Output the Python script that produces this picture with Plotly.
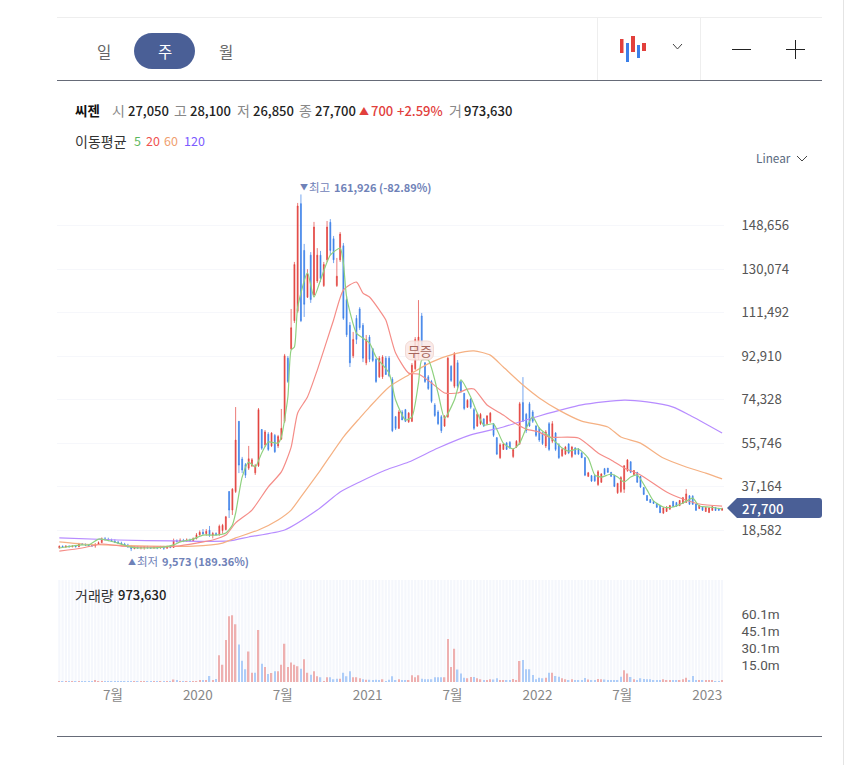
import pandas as pd
import plotly.graph_objects as go

W, H = 845, 765

# weekly candles, thousands of won
open_k = [
    11.0, 11.6, 11.3, 11.7, 11.4, 11.7, 11.4, 12.7, 12.4, 12.1,
    11.9, 11.8, 12.4, 13.2, 14.8, 14.6, 14.2, 13.8, 13.4, 13.0,
    12.6, 12.2, 11.3, 10.6, 11.2, 10.9, 11.1, 11.3, 11.0, 10.9,
    11.2, 10.9, 11.3, 10.8, 11.4, 11.1, 14.0, 13.7, 14.2, 13.8,
    14.3, 14.0, 14.9, 16.5, 17.6, 17.0, 18.5, 16.3, 17.1, 16.6,
    18.4, 18.8, 35.0, 27.1, 35.0, 65.0, 48.9, 46.5, 45.0, 46.0,
    43.0, 46.0, 61.5, 55.0, 59.5, 54.5, 59.0, 54.5, 57.5, 65.0,
    92.0, 96.0, 108.0, 112.0, 158.0, 138.0, 118.0, 136.0, 119.0, 125.0,
    136.0, 123.0, 134.0, 150.0, 143.0, 123.0, 134.0, 140.0, 117.0, 106.0,
    93.0, 109.0, 113.0, 106.0, 90.0, 101.0, 96.0, 91.5, 84.0, 84.0,
    92.0, 92.0, 83.0, 67.0, 62.0, 69.0, 70.0, 64.8, 65.0, 87.5,
    92.0, 110.0, 90.0, 84.0, 82.0, 72.0, 69.0, 67.0, 63.0, 67.0,
    88.5, 80.0, 90.0, 82.0, 77.0, 71.0, 74.5, 70.0, 63.0, 64.0,
    66.0, 64.0, 65.0, 64.0, 58.0, 49.5, 53.0, 55.8, 56.0, 50.0,
    54.0, 55.5, 73.0, 68.0, 72.5, 69.0, 63.0, 62.0, 60.0, 54.5,
    64.0, 56.5, 60.0, 55.0, 50.3, 51.0, 55.3, 50.0, 53.6, 53.0,
    51.5, 49.5, 41.5, 41.8, 41.8, 38.0, 39.0, 44.8, 45.0, 43.2,
    42.0, 34.5, 35.0, 36.0, 44.0, 47.7, 42.3, 43.2, 41.5, 36.7,
    33.3, 31.6, 30.8, 30.0, 29.0, 25.8, 26.5, 27.5, 30.8, 30.3,
    29.0, 30.0, 30.4, 33.2, 33.0, 29.7, 27.8, 28.6, 26.5, 26.1,
    27.0, 28.2, 27.8, 27.05,
]
high_k = [
    12.0, 12.0, 12.0, 12.0, 12.0, 12.1, 13.1, 13.0, 12.9, 12.6,
    12.4, 13.0, 13.7, 15.4, 15.6, 15.3, 14.9, 14.6, 14.0, 13.6,
    13.1, 12.7, 12.2, 11.8, 11.7, 11.6, 11.7, 11.8, 11.5, 11.7,
    11.7, 11.8, 11.8, 11.9, 11.9, 14.9, 14.6, 15.0, 14.8, 15.0,
    14.9, 15.4, 17.3, 18.4, 19.0, 19.0, 20.3, 17.8, 17.6, 20.9,
    21.2, 24.6, 35.2, 36.5, 71.1, 65.1, 49.8, 47.2, 54.5, 49.3,
    46.8, 70.7, 61.7, 61.3, 60.4, 60.4, 59.6, 59.2, 70.3, 93.8,
    92.9, 113.0, 133.1, 158.3, 161.926, 140.8, 130.0, 137.3, 150.2, 139.0,
    137.8, 133.1, 150.6, 151.4, 144.2, 134.8, 145.9, 141.2, 118.5, 107.4,
    103.2, 110.4, 113.8, 107.0, 101.9, 101.9, 96.3, 92.0, 92.9, 93.3,
    92.9, 92.9, 83.9, 67.3, 69.8, 69.8, 70.3, 69.0, 89.9, 101.0,
    116.8, 111.3, 90.3, 84.8, 82.7, 72.8, 69.8, 67.7, 67.7, 92.5,
    89.0, 94.6, 91.2, 82.7, 77.1, 74.5, 75.0, 70.7, 68.6, 68.6,
    66.4, 67.7, 69.0, 64.3, 58.3, 55.7, 55.7, 56.2, 56.6, 53.6,
    57.0, 73.3, 83.9, 68.6, 73.3, 69.8, 63.4, 62.6, 60.4, 61.3,
    64.7, 65.1, 60.4, 55.7, 53.6, 54.5, 55.7, 54.5, 54.0, 53.6,
    51.9, 49.8, 43.4, 42.1, 42.1, 44.2, 42.9, 45.1, 45.1, 43.4,
    42.1, 38.7, 41.6, 46.3, 48.9, 48.0, 44.2, 43.4, 41.6, 36.9,
    33.5, 31.8, 31.0, 30.1, 29.3, 28.4, 28.8, 29.3, 31.0, 30.6,
    31.4, 32.7, 36.1, 33.5, 33.5, 29.7, 29.3, 28.8, 28.4, 28.4,
    28.8, 28.4, 28.0, 28.1,
]
low_k = [
    10.6, 11.0, 11.0, 11.1, 11.2, 11.2, 11.3, 12.1, 11.8, 11.6,
    11.4, 11.0, 12.2, 13.0, 14.0, 13.8, 13.5, 13.0, 12.6, 12.2,
    11.8, 11.0, 9.573, 10.4, 10.5, 10.3, 10.2, 10.6, 10.5, 10.5,
    10.4, 10.6, 10.1, 10.6, 10.8, 10.9, 13.2, 13.4, 13.4, 13.5,
    13.5, 13.7, 14.6, 16.2, 16.4, 16.1, 15.6, 15.0, 16.2, 16.1,
    17.0, 18.4, 23.7, 25.0, 34.4, 42.9, 42.9, 40.8, 44.2, 45.5,
    42.1, 45.5, 52.8, 54.0, 52.3, 54.0, 51.5, 53.6, 57.0, 64.3,
    81.4, 95.5, 107.0, 111.3, 107.4, 109.6, 117.7, 115.6, 118.1, 124.1,
    124.5, 122.4, 133.1, 136.0, 132.6, 122.4, 133.1, 108.3, 101.0, 88.2,
    92.0, 98.0, 104.0, 90.3, 89.0, 90.3, 90.3, 81.4, 83.5, 83.1,
    84.8, 83.9, 60.4, 61.3, 61.7, 65.6, 64.7, 64.3, 64.7, 86.9,
    91.2, 96.7, 81.4, 78.4, 72.8, 66.9, 63.4, 60.0, 62.6, 66.4,
    81.8, 79.2, 79.2, 77.1, 69.8, 70.7, 70.3, 61.3, 62.6, 63.4,
    62.6, 63.4, 64.3, 58.3, 50.6, 48.9, 52.8, 52.8, 53.2, 49.3,
    53.6, 54.9, 64.7, 60.0, 62.6, 64.3, 58.3, 56.2, 54.9, 53.6,
    52.3, 55.7, 52.3, 48.9, 49.8, 50.6, 51.0, 49.3, 50.6, 50.6,
    49.3, 41.6, 41.2, 39.1, 39.1, 37.4, 38.7, 42.1, 43.0, 41.2,
    36.9, 34.0, 34.4, 34.4, 43.4, 42.9, 42.1, 38.7, 36.5, 33.5,
    31.0, 30.1, 29.7, 28.0, 25.8, 25.4, 26.3, 27.1, 28.4, 28.6,
    28.8, 29.7, 30.1, 29.3, 29.3, 26.7, 27.5, 26.7, 26.3, 25.8,
    26.7, 26.7, 26.7, 26.85,
]
close_k = [
    11.6, 11.3, 11.7, 11.4, 11.7, 11.4, 12.7, 12.4, 12.1, 11.9,
    11.8, 12.4, 13.2, 14.8, 14.6, 14.2, 13.8, 13.4, 13.0, 12.6,
    12.2, 11.3, 10.6, 11.2, 10.9, 11.1, 11.3, 11.0, 10.9, 11.2,
    10.9, 11.3, 10.8, 11.4, 11.1, 14.0, 13.7, 14.2, 13.8, 14.3,
    14.0, 14.9, 16.5, 17.6, 17.0, 18.0, 16.3, 17.1, 16.6, 20.2,
    20.6, 24.2, 27.1, 36.0, 57.0, 46.3, 44.2, 42.0, 49.0, 48.6,
    46.0, 70.0, 53.5, 60.5, 53.0, 60.0, 52.0, 58.5, 62.0, 93.0,
    82.0, 105.0, 132.0, 157.0, 108.0, 115.0, 128.0, 117.0, 148.0, 136.0,
    126.0, 132.0, 148.0, 138.0, 134.0, 127.0, 145.0, 109.0, 102.0, 90.0,
    100.0, 100.0, 105.0, 92.0, 100.0, 91.5, 91.0, 82.0, 92.0, 92.5,
    85.0, 84.5, 61.0, 62.0, 69.0, 65.6, 65.0, 68.5, 89.0, 100.0,
    101.0, 97.5, 82.0, 79.0, 73.5, 67.5, 64.0, 61.0, 67.0, 92.0,
    82.5, 94.0, 80.0, 78.0, 70.5, 74.0, 71.0, 62.0, 68.0, 68.0,
    63.0, 67.3, 68.5, 59.0, 51.0, 55.0, 55.3, 53.0, 53.6, 53.0,
    56.5, 72.5, 65.0, 61.0, 63.0, 65.0, 59.0, 57.0, 55.5, 60.5,
    53.0, 64.0, 53.0, 49.5, 53.0, 54.0, 51.5, 54.0, 51.0, 51.0,
    49.5, 42.0, 43.0, 39.5, 39.6, 43.5, 42.5, 42.4, 43.2, 41.5,
    37.2, 38.5, 41.0, 46.0, 48.5, 43.2, 44.0, 39.0, 37.0, 33.8,
    31.2, 30.3, 29.9, 28.3, 26.0, 28.0, 28.4, 29.0, 28.6, 28.7,
    31.2, 32.4, 34.0, 29.6, 29.6, 27.0, 29.0, 27.0, 28.2, 28.0,
    28.6, 26.9, 27.0, 27.7,
]

# volume panel, millions of shares
volume_m = [
    0.4, 0.5, 0.4, 0.3, 0.5, 0.4, 0.5, 0.3, 0.3, 0.6,
    0.4, 1.4, 0.6, 0.7, 0.4, 0.5, 0.3, 0.3, 0.3, 0.4,
    0.3, 0.4, 0.6, 0.3, 0.4, 0.4, 0.3, 0.3, 0.3, 0.4,
    0.3, 0.4, 0.4, 0.4, 0.3, 2.3, 1.5, 0.6, 0.5, 0.5,
    0.6, 0.5, 0.6, 1.4, 1.4, 1.1, 5.3, 1.4, 2.6, 23.5,
    15.3, 37.0, 58.0, 58.8, 51.0, 33.0, 18.8, 11.2, 27.0, 8.2,
    8.2, 45.9, 16.2, 13.2, 7.0, 8.0, 9.4, 9.4, 15.3, 33.8,
    13.2, 17.3, 15.3, 14.0, 11.8, 20.0, 8.2, 6.5, 9.4, 5.0,
    4.1, 0.6, 4.1, 4.1, 2.4, 2.9, 2.9, 8.2, 5.0, 9.4,
    4.1, 4.1, 3.2, 2.4, 2.0, 2.0, 1.5, 2.0, 1.5, 2.4,
    0.6, 2.0, 5.0, 1.2, 2.4, 1.5, 1.5, 1.5, 5.9, 4.1,
    5.9, 2.9, 2.4, 2.4, 2.4, 4.1, 4.1, 4.1, 4.1, 38.0,
    13.2, 29.4, 11.0, 7.4, 3.8, 3.2, 4.4, 4.4, 3.2, 2.4,
    1.8, 1.8, 2.4, 2.1, 3.2, 1.8, 1.8, 1.5, 1.5, 2.6,
    1.8, 18.5, 19.4, 11.2, 11.2, 6.2, 2.4, 3.8, 3.2, 3.8,
    8.2, 8.2, 5.3, 4.7, 3.2, 2.4, 1.5, 2.4, 1.5, 1.8,
    1.5, 3.5, 2.1, 1.5, 1.2, 2.6, 2.4, 2.1, 1.8, 1.8,
    1.5, 1.5, 4.7, 10.3, 7.4, 4.4, 2.4, 1.8, 3.2, 2.6,
    2.4, 2.4, 1.5, 1.8, 1.5, 2.4, 1.8, 1.8, 1.5, 0.9,
    1.8, 2.4, 3.8, 0.9, 5.3, 1.8, 0.9, 0.9, 1.5, 1.2,
    1.2, 0.6, 0.6, 0.97,
]
volume_side = (
    "rbrbrbrbbb" "brrrbbbbbb" "bbbrbrrbbr" "brbrbrbrbr" "brrrbrbrbr"
    "rrrrrbbbrr" "brbrbrbrrr" "rrrrbrrbrr" "brrbbbrbbb" "rrrbrbbbbr"
    "bbbbrbbrrr" "rbbbbbbbrr" "rrbbbrrbrr" "brrbbrrbbr" "rrbbbbbbbr"
    "brbbrrbrbb" "bbrbbrrbbb" "bbbrrbrbbb" "bbbbbrrrbb" "rrrbbbrbrr"
    "rbbr"
)

# moving averages, read at the bends of each line: week number, thousands of won
ma5_week = [0, 7, 9, 12, 13, 18, 22, 26, 32, 35, 37, 41, 44, 48, 51, 53, 54, 56, 58, 60,
            62, 64, 67, 68, 70, 71, 72, 73, 76, 78, 80, 83, 86, 87, 88, 91, 93, 95, 97, 101,
            103, 106, 108, 110, 111, 113, 116, 118, 121, 123, 126, 128, 130, 133, 136, 139, 141, 143, 145, 147,
            151, 154, 156, 159, 162, 164, 166, 169, 171, 173, 175, 177, 180, 182, 185, 188, 191, 194, 196, 199, 203]
ma5_k = [10.9, 12.2, 12.2, 14.7, 14.7, 13.0, 11.3, 10.9, 11.3, 12.2, 13.5, 14.7, 16.4, 16.4, 17.3, 20.7, 25.8, 41.2, 47.6, 45.5,
         51.5, 56.2, 55.7, 58.3, 75.4, 95.5, 96.8, 113.8, 128.4, 118.1, 125.4, 136.0, 139.0, 132.6, 118.1, 102.7, 100.6, 98.5, 92.5, 85.6,
         74.1, 65.6, 66.9, 81.4, 91.2, 91.2, 77.1, 66.4, 74.1, 82.7, 75.4, 68.6, 63.4, 63.9, 55.7, 53.2, 55.7, 62.1, 66.9, 62.1,
         57.5, 53.6, 52.3, 53.2, 49.3, 42.1, 41.2, 42.5, 41.2, 39.1, 41.2, 42.1, 35.7, 31.0, 28.4, 28.4, 30.1, 32.2, 28.8, 28.4, 27.6]
ma20_week = [0, 7, 13, 19, 28, 36, 42, 47, 51, 54, 59, 64, 68, 71, 73, 76, 79, 82, 84, 87,
             91, 93, 95, 98, 100, 103, 107, 110, 114, 118, 122, 125, 127, 131, 136, 139, 143, 147, 150, 159,
             165, 169, 173, 178, 186, 191, 196, 203]
ma20_k = [9.6, 10.9, 12.6, 11.7, 11.3, 11.7, 13.0, 14.3, 16.4, 21.6, 27.1, 37.0, 43.4, 54.0, 68.6, 75.4, 86.9, 99.7, 108.3, 121.1,
          124.5, 119.8, 118.1, 112.6, 108.3, 94.2, 85.6, 85.2, 81.4, 77.1, 77.1, 78.8, 78.8, 72.0, 67.7, 64.7, 61.7, 60.4, 58.3, 57.9,
          51.5, 48.5, 45.1, 42.1, 34.8, 31.8, 29.7, 28.8]
ma60_week = [0, 7, 14, 28, 41, 50, 54, 61, 67, 71, 74, 80, 87, 92, 95, 101, 107, 114, 121, 127,
             132, 136, 142, 147, 153, 160, 168, 172, 178, 185, 192, 198, 203]
ma60_k = [13.5, 12.6, 12.2, 11.7, 11.7, 13.0, 15.2, 18.6, 22.9, 27.1, 32.7, 44.2, 58.3, 66.4, 71.1, 79.7, 84.8, 90.3, 93.8, 95.1,
          93.3, 88.2, 80.5, 75.0, 69.8, 65.1, 62.6, 58.3, 55.7, 49.3, 45.5, 42.9, 40.4]
ma120_week = [0, 18, 35, 52, 58, 69, 79, 86, 92, 100, 107, 116, 126, 136, 147, 160, 173, 180, 188, 193, 203]
ma120_k = [15.2, 14.3, 13.9, 13.9, 15.6, 18.6, 27.1, 34.8, 39.1, 44.2, 47.6, 53.6, 59.2, 62.6, 67.3, 72.0, 74.1, 73.3, 71.1, 67.7, 60.0]

price_ticks = [18582, 37164, 55746, 74328, 92910, 111492, 130074, 148656]
volume_ticks = [15.0e6, 30.1e6, 45.1e6, 60.1e6]
volume_tick_text = ["15.0m", "30.1m", "45.1m", "60.1m"]
date_ticks = ["2019-07-11", "2020-01-09", "2020-07-09", "2021-01-07", "2021-07-08", "2022-01-06", "2022-07-07", "2023-01-05"]
date_tick_text = ["7월", "2020", "7월", "2021", "7월", "2022", "7월", "2023"]

FONT = "Noto Sans CJK KR"
RED = "#e2403c"
BLUE = "#3b7fe8"
NAVY = "#4a5f96"
MARK = "#6f82b8"
RULE = "#666b78"
PALE = "#eeeeee"

assert len(open_k) == len(high_k) == len(low_k) == len(close_k) == len(volume_m) == len(volume_side) == 204
dates = pd.date_range("2019-03-18", periods=len(close_k), freq="7D")


def won(values):
    return [v * 1000 for v in values]


def px(x):
    return x / W


def py(y):
    return 1 - y / H


def ma_line(weeks, values, color):
    return go.Scatter(x=dates[weeks], y=won(values), mode="lines",
                      line=dict(color=color, width=1.2, shape="spline", smoothing=0.6),
                      xaxis="x", yaxis="y", hoverinfo="skip")


def label(x, y, text, size=13, color="#222222", weight=400, anchor="left"):
    fig.add_annotation(xref="paper", yref="paper", x=px(x), y=py(y), text=text, showarrow=False,
                       xanchor=anchor, yanchor="middle", borderpad=0,
                       font=dict(family=FONT, size=size, color=color, weight=weight))


def line(x0, y0, x1, y1, color, width=1):
    fig.add_shape(type="line", xref="paper", yref="paper", x0=px(x0), y0=py(y0), x1=px(x1), y1=py(y1),
                  line=dict(color=color, width=width))


def box(x0, y0, x1, y1, color):
    fig.add_shape(type="rect", xref="paper", yref="paper", x0=px(x0), y0=py(y0), x1=px(x1), y1=py(y1),
                  fillcolor=color, line_width=0)


def path(points, **kw):
    # points are (command, x, y ...) in page pixels
    d = ""
    for p in points:
        nums = p[1:]
        pairs = [f"{px(nums[i]):.5f},{py(nums[i + 1]):.5f}" for i in range(0, len(nums), 2)]
        d += p[0] + " ".join(pairs) + " "
    fig.add_shape(type="path", xref="paper", yref="paper", path=d + kw.pop("tail", ""), **kw)


def round_box(x0, y0, x1, y1, r, **kw):
    k = r * 0.45
    path([("M", x0 + r, y0), ("L", x1 - r, y0),
          ("C", x1 - k, y0, x1, y0 + k, x1, y0 + r), ("L", x1, y1 - r),
          ("C", x1, y1 - k, x1 - k, y1, x1 - r, y1), ("L", x0 + r, y1),
          ("C", x0 + k, y1, x0, y1 - k, x0, y1 - r), ("L", x0, y0 + r),
          ("C", x0, y0 + k, x0 + k, y0, x0 + r, y0)], tail="Z", **kw)


def chevron(x0, x1, y0, y1):
    path([("M", x0, y0), ("L", (x0 + x1) / 2, y1), ("L", x1, y0)], line=dict(color="#444444", width=1))


fig = go.Figure()

# pale stripes behind the volume bars, one per week
fig.add_trace(go.Bar(x=dates, y=[90e6] * len(dates), width=4.6 * 86400000, marker=dict(color="#f5f7fc", line_width=0),
                     xaxis="x2", yaxis="y2", hoverinfo="skip"))
fig.add_trace(go.Bar(x=dates, y=[v * 1e6 for v in volume_m], width=3.0 * 86400000,
                     marker=dict(color=["#eeb0b0" if s == "r" else "#aecdf8" for s in volume_side], line_width=0),
                     xaxis="x2", yaxis="y2"))

fig.add_trace(go.Candlestick(x=dates, open=won(open_k), high=won(high_k), low=won(low_k), close=won(close_k),
                             increasing=dict(line=dict(color=RED, width=0.7), fillcolor=RED),
                             decreasing=dict(line=dict(color=BLUE, width=0.7), fillcolor=BLUE),
                             whiskerwidth=0, xaxis="x", yaxis="y"))
fig.add_trace(ma_line(ma120_week, ma120_k, "#b78cff"))
fig.add_trace(ma_line(ma60_week, ma60_k, "#f5b183"))
fig.add_trace(ma_line(ma20_week, ma20_k, "#f58d88"))
fig.add_trace(ma_line(ma5_week, ma5_k, "#8fd17f"))

fig.update_layout(
    width=W, height=H, autosize=False, margin=dict(l=0, r=0, t=0, b=0),
    paper_bgcolor="white", plot_bgcolor="white", showlegend=False, barmode="overlay", boxgap=0.6,
    font=dict(family=FONT),
    xaxis=dict(domain=[px(57), px(723.5)], range=["2019-03-13", "2023-02-09"], type="date", anchor="y",
               rangeslider=dict(visible=False), showticklabels=False, showgrid=False, zeroline=False, ticks=""),
    yaxis=dict(domain=[py(575), py(175)], range=[-642, 170238], side="right", anchor="x",
               tickvals=price_ticks, tickformat=",d", ticks="", ticklabelstandoff=17,
               gridcolor="#f6f7fb", gridwidth=1, zeroline=False, showline=False,
               tickfont=dict(family=FONT, size=13.2, color="#555555")),
    xaxis2=dict(domain=[px(57), px(723.5)], matches="x", type="date", anchor="y2",
                tickvals=date_ticks, ticktext=date_tick_text, ticks="", showgrid=False, zeroline=False,
                ticklabelstandoff=3, tickfont=dict(family=FONT, size=13.5, color="#888888")),
    yaxis2=dict(domain=[py(682), py(580)], range=[0, 90e6], side="right", anchor="x2",
                tickvals=volume_ticks, ticktext=volume_tick_text, ticks="", ticklabelstandoff=17,
                showgrid=False, zeroline=False, tickfont=dict(family="Roboto", size=13.5, color="#555555")),
)

# frame lines
line(57, 17.5, 822, 17.5, PALE)
line(57, 80.5, 822, 80.5, RULE)
line(57, 736.5, 822, 736.5, RULE)
line(597.5, 18, 597.5, 80, PALE)
line(700.5, 18, 700.5, 80, PALE)
line(843.5, 0, 843.5, 765, "#e4e4e4")

# period tabs
round_box(134, 33, 195, 69, 18, fillcolor=NAVY, line_width=0)
label(104, 51, "일", 15.5, "#666666", anchor="center")
label(165, 51, "주", 15.5, "#ffffff", anchor="center")
label(226, 51, "월", 15.5, "#666666", anchor="center")

# chart type icon and zoom buttons
box(620, 39, 623.5, 53, RED)
box(626, 43, 629, 62, BLUE)
box(631, 36, 635, 52, RED)
box(637, 45, 640, 58, BLUE)
box(642, 43, 646, 51, RED)
chevron(673, 682, 44, 49)
line(732, 49.5, 751, 49.5, "#222222")
line(786, 49.5, 805, 49.5, "#222222")
line(795.5, 40, 795.5, 59, "#222222")

# quote line
label(74, 110.5, "씨젠", 13.5, "#111111", 700)
for x, name, x_val, val in [(110.5, "시", 126.5, "27,050"), (172.5, "고", 188.5, "28,100"), (235.5, "저", 251.5, "26,850"),
                            (297.5, "종", 313.5, "27,700"), (447.5, "거", 462.5, "973,630")]:
    label(x, 110.5, name, 14, "#888888")
    label(x_val, 110.5, val, 13, "#222222", 500)
label(358, 110.5, "▲", 10, RED)
label(369.5, 110.5, "700", 13, RED, 500)
label(395.5, 110.5, "+2.59%", 13, RED, 500)

label(74, 140.5, "이동평균", 14, "#333333")
label(132.5, 140.5, "5", 12.5, "#5cb85c")
label(144.5, 140.5, "20", 12.5, "#ef5350")
label(162.5, 140.5, "60", 12.5, "#f0a070")
label(182.5, 140.5, "120", 12.5, "#7c5cff")

label(754.5, 158, "Linear", 11.8, "#5a6a80")
chevron(797, 807, 156, 161)

# high and low marks
label(299, 186.5, "▼", 8, MARK)
label(308, 186.5, "최고", 11.5, MARK)
label(333, 186.5, "161,926 (-82.89%)", 11, MARK, 700)
label(127, 561, "▲", 8, MARK)
label(136, 561, "최저", 11.5, MARK)
label(161, 561, "9,573 (189.36%)", 11, MARK, 700)

# free share issue badge
round_box(405.5, 341, 433.5, 360, 6, fillcolor="#fbe9e6", opacity=0.88, line=dict(color="#f1d6d0", width=1))
label(419.5, 350.5, "무증", 13, "#a5655c", anchor="center")

# last price tag
path([("M", 727, 508), ("L", 737, 498), ("L", 819, 498), ("C", 821, 498, 822, 499, 822, 501), ("L", 822, 515),
      ("C", 822, 517, 821, 518, 819, 518), ("L", 737, 518)], tail="Z", fillcolor=NAVY, line_width=0)
label(740.5, 508, "27,700", 13.2, "#ffffff", 500)

label(74, 594.5, "거래량", 14, "#333333")
label(117, 594.5, "973,630", 13, "#222222", 500)

fig.write_html("out.html", config=dict(displayModeBar=False), post_script="document.body.style.margin='0';")
